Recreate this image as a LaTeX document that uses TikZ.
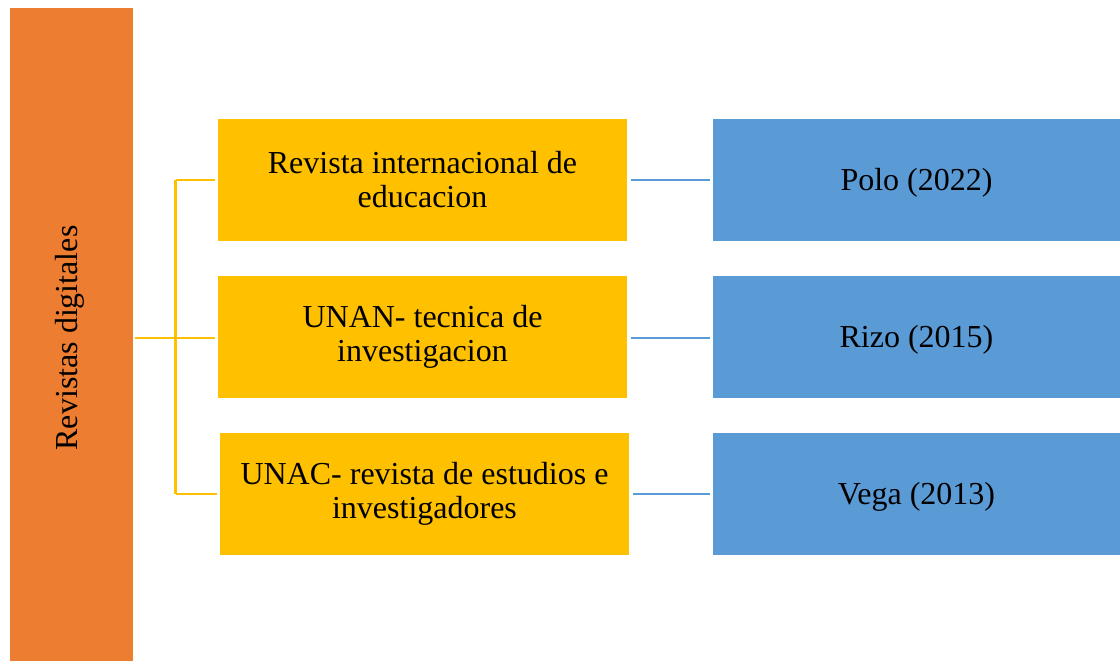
\documentclass[tikz,border=0pt]{standalone}
\usepackage{fontspec}
\setmainfont{Liberation Serif}
\definecolor{orng}{HTML}{ED7D31}
\definecolor{ylw}{HTML}{FFC000}
\definecolor{blu}{HTML}{5B9BD5}
\begin{document}
\begin{tikzpicture}[x=1pt,y=-1pt,
  lbl/.style={font=\fontsize{32}{34}\selectfont, align=center, text=black, inner sep=0pt},
  ybox/.style={lbl, fill=ylw, minimum width=409pt, minimum height=122pt},
  bbox/.style={fill=blu, minimum width=407pt, minimum height=122pt, inner sep=0pt,
    label={[lbl, yshift=-3pt]center:#1}},
  yline/.style={draw=ylw, line width=2.2pt},
  bline/.style={draw=blu, line width=2.2pt}]
\useasboundingbox (0,0) rectangle (1120,661);
\node[fill=orng, minimum width=123pt, minimum height=653pt, inner sep=0pt] (bar) at (71.5,334.5) {};
\node[lbl, rotate=90] (bartext) at (70,338) {Revistas digitales};
\node[ybox] (y1) at (422.5,180) {Revista internacional de\\educacion};
\node[ybox] (y2) at (422.5,337) {UNAN- tecnica de\\investigacion};
\node[ybox] (y3) at (424.5,494) {UNAC- revista de estudios e\\investigadores};
\node[bbox={Polo (2022)}] (b1) at (916.5,180) {};
\node[bbox={Rizo (2015)}] (b2) at (916.5,337) {};
\node[bbox={Vega (2013)}] (b3) at (916.5,494) {};
\coordinate (j) at (175.5,338);
\draw[yline] ([xshift=2pt]bar.east |- j) -- (j);
\draw[yline] (j |- y1.west) -- (j |- y3.west);
\draw[yline, shorten >=3pt] (j |- y1.west) -- (y1.west);
\draw[yline, shorten >=3pt] (j) -- (j -| y2.west);
\draw[yline, shorten >=3pt] (j |- y3.west) -- (y3.west);
\draw[bline, shorten <=4pt, shorten >=3pt] (y1.east) -- (b1.west);
\draw[bline, shorten <=4pt, shorten >=3pt] (y2.east |- j) -- (b2.west |- j);
\draw[bline, shorten <=4pt, shorten >=3pt] (y3.east) -- (b3.west);
\end{tikzpicture}
\end{document}
